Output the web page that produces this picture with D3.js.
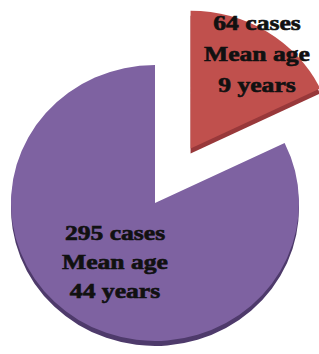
<!DOCTYPE html>
<html>
<head>
<meta charset="utf-8">
<script src="https://cdn.jsdelivr.net/npm/d3@7"></script>
<style>
  html, body { margin: 0; padding: 0; background: #fff; }
  svg { display: block; }
</style>
</head>
<body>
<svg id="chart" width="319" height="354"></svg>
<script>
// Data
const groups = ['children', 'adults'];
const cases = [64, 295];
const meanAge = [9, 44];
const colors = ['#C0504D', '#7E62A1'];
const sideColors = ['#98383A', '#4E3A6B'];

const width = 319, height = 354;
const cx = 155, cy = 203;
const radius = 144;
const squash = 0.958;   // slight tilt of the pie
const depth = 5;
const explode = 67;     // offset of the small slice

const svg = d3.select('#chart');

const pie = d3.pie()
  .sort(null)
  .value(d => d.cases);

const arc = d3.arc()
  .innerRadius(0)
  .outerRadius(radius);

const data = groups.map((g, i) => ({ group: g, cases: cases[i], age: meanAge[i], i }));
const arcs = pie(data);

const offset = d => {
  if (d.data.i !== 0) return [0, 0];
  const mid = (d.startAngle + d.endAngle) / 2;
  return [Math.sin(mid) * explode, -Math.cos(mid) * explode];
};

// draw purple first, red after
const order = [1, 0];

order.forEach(k => {
  const d = arcs[k];
  const [ox, oy] = offset(d);
  const g = svg.append('g')
    .attr('transform', `translate(${cx + ox},${cy + oy * squash})`);

  // side / thickness
  g.append('path')
    .attr('transform', `translate(0,${depth}) scale(1,${squash})`)
    .attr('d', arc(d))
    .attr('fill', sideColors[d.data.i]);

  // top face
  g.append('path')
    .attr('transform', `scale(1,${squash})`)
    .attr('d', arc(d))
    .attr('fill', colors[d.data.i]);
});

// Labels
const labelPos = [[257, 30], [115, 240]];
const lineGap = [31, 29];

arcs.forEach(d => {
  const i = d.data.i;
  const lines = [`${d.data.cases} cases`, 'Mean age', `${d.data.age} years`];
  const t = svg.append('g')
    .attr('transform', `translate(${labelPos[i][0]},${labelPos[i][1]}) scale(1.28,1)`);
  t.selectAll('text')
    .data(lines)
    .enter()
    .append('text')
    .attr('x', 0)
    .attr('y', (l, j) => j * lineGap[i])
    .attr('text-anchor', 'middle')
    .attr('font-family', '"Liberation Serif", "Times New Roman", serif')
    .attr('font-weight', 'bold')
    .attr('font-size', 20)
    .attr('fill', '#111')
    .attr('stroke', '#111')
    .attr('stroke-width', 0.6)
    .text(l => l);
});
</script>
</body>
</html>
